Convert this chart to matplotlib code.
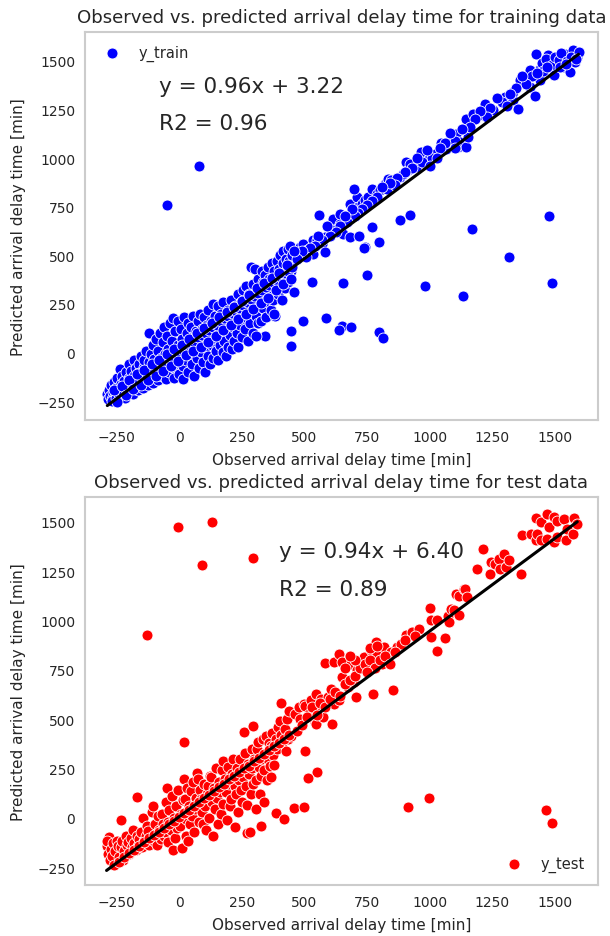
import matplotlib
matplotlib.use("Agg")
import matplotlib.pyplot as plt
import seaborn as sns
import numpy as np

# ---------------- data ----------------
# Training set: dense band at low delays
train_low = [
(-288,-215),(-284,-240),(-280,-195),(-276,-225),(-272,-170),(-268,-240),(-264,-205),(-260,-150),(-256,-225),(-252,-185),
(-248,-130),(-245,-240),(-242,-200),(-238,-85),(-235,-160),(-232,-225),(-228,-120),(-225,-190),(-221,-145),(-218,-235),
(-214,-100),(-210,-170),(-207,-205),(-203,-130),(-200,-60),(-196,-185),(-193,-95),(-190,-150),(-186,-215),(-183,-120),
(-180,-40),(-176,-170),(-173,-80),(-170,-135),(-166,-195),(-163,-60),(-160,-105),(-156,-160),(-153,-20),(-150,-125),
(-146,-185),(-143,-75),(-140,-40),(-136,-145),(-133,10),(-130,-100),(-126,-170),(-123,-50),(-120,100),(-117,-125),
(-114,-10),(-110,-80),(-107,-155),(-104,40),(-100,-35),(-97,-110),(-94,70),(-90,-60),(-87,-140),(-84,10),
(-80,-90),(-77,100),(-74,-30),(-70,-120),(-67,55),(-64,-70),(-60,130),(-57,-10),(-54,-135),(-50,85),
(-47,-50),(-44,20),(-40,-100),(-37,150),(-34,-20),(-30,60),(-27,175),(-24,-75),(-20,-130),(-17,110),
(-14,0),(-10,-50),(-7,160),(-4,40),(0,-110),(3,-20),(6,120),(10,70),(13,-70),(16,-135),
(20,180),(23,20),(26,-40),(30,100),(33,150),(36,-100),(40,40),(43,-10),(46,130),(50,-60),
(53,80),(56,190),(60,-120),(63,20),(66,110),(70,-30),(73,160),(76,60),(80,-80),(83,200),
(86,0),(90,120),(93,-50),(96,80),(100,180),(103,-100),(106,30),(110,140),(113,-20),(116,220),
(120,90),(123,-60),(126,160),(130,40),(133,250),(136,-30),(140,110),(143,190),(146,10),(150,70),
(153,240),(156,-40),(160,150),(163,40),(166,200),(170,100),(173,0),(176,260),(180,60),(183,170),
(186,-20),(190,120),(193,220),(196,30),(200,160),(203,90),(206,270),(210,20),(213,190),(216,130),
(220,60),(223,240),(226,160),(230,100),(233,300),(236,30),(240,200),(243,140),(246,260),(250,80),
(253,320),(256,180),(260,230),(263,120),(266,340),(270,270),(273,60),(276,200),(280,300),(283,150),
(286,440),(290,240),(293,350),(296,100),(300,280),(303,430),(306,190),(310,320),(313,150),(316,380),
(320,250),(323,300),(326,160),(330,420),(333,360),(336,230),(340,280),(343,400),(346,180),(350,330),
(353,440),(356,260),(360,380),(363,310),(366,220),(370,460),(373,350),(376,270),(380,420),(383,190),
(386,330),(390,470),(393,380),(396,300),(400,430),(403,500),(406,350),(410,270),(413,460),(416,520),
(420,400),(423,330),(426,480),(430,420),(433,530),(436,360),(440,470),(443,550),(446,420),(450,500),
]
train_core = [
(-270,-250),(-255,-235),(-240,-215),(-225,-205),(-210,-190),(-195,-170),(-180,-160),(-165,-150),(-150,-135),(-135,-120),
(-120,-105),(-105,-90),(-90,-80),(-75,-60),(-60,-50),(-45,-30),(-30,-25),(-15,-5),(0,10),(15,15),
(30,30),(45,50),(60,55),(75,80),(90,90),(105,100),(120,115),(135,130),(150,140),(165,160),
(180,175),(195,185),(210,205),(225,215),(240,230),(255,245),(270,260),(285,275),(300,290),(315,305),
(330,320),(345,335),(360,345),(375,360),(390,375),(405,390),(420,410),(435,420),(450,440),
(-262,-195),(-230,-175),(-200,-140),(-170,-110),(-140,-90),(-110,-60),(-80,-40),(-50,-10),(-20,20),(10,40),
(40,70),(70,100),(100,125),(130,150),(160,180),(190,210),(220,235),(250,265),(280,295),(310,330),
(340,355),(370,385),(400,410),(430,450),
(-250,-255),(-215,-220),(-185,-190),(-155,-170),(-125,-140),(-95,-120),(-65,-95),(-35,-70),(-5,-45),(25,-15),
(55,5),(85,30),(115,55),(145,85),(175,115),(205,140),(235,170),(265,200),(295,225),(325,255),
(355,280),(385,320),(415,350),(445,380),
]
train_high = [
(481,543),(494,500),(494,560),(508,526),(534,508),(534,577),(548,577),(568,560),(581,594),(581,517),
(608,637),(614,629),(614,688),(641,663),(641,714),(654,611),(668,692),(681,766),(681,594),(694,731),
(708,800),(714,749),(728,766),(741,783),(754,800),(768,843),(788,817),(801,834),(821,868),(828,843),
(834,894),(847,886),(881,903),(894,920),(907,980),(914,937),(921,971),(947,954),(967,1032),(994,989),
(1020,1023),(1047,1078),(1067,1049),(1087,1109),(1107,1126),(1113,1057),(1120,1083),(1147,1057),(1147,1203),(1153,1109),
(1174,1229),(1214,1220),(1220,1280),(1253,1246),(1300,1315),(1333,1298),(1333,1340),(1353,1255),(1360,1400),(1400,1366),
(1400,1452),(1424,1534),(1440,1460),(1440,1400),(1473,1529),(1480,1452),(1507,1495),(1533,1469),(1540,1538),(1560,1443),
(1573,1555),(1590,1521),
(1450,1490),(1465,1510),(1490,1480),(1500,1520),(1515,1505),(1525,1540),(1550,1500),(1565,1520),(1580,1495),(1455,1450),
(1495,1430),(1520,1470),(1545,1485),(1410,1420),(1385,1380),(1370,1420),(1345,1360),(1320,1330),(1290,1290),(1270,1310),
(1240,1260),(1230,1210),(1200,1240),(1180,1200),(1160,1160),(1130,1150),(1100,1090),(1080,1130),(1060,1080),(1040,1050),
(1010,1000),(990,1040),(970,980),(950,1000),(930,950),(900,930),(870,900),(860,860),(840,870),(810,850),
(790,800),(770,780),(750,760),(730,740),(715,720),(700,700),(690,740),(670,670),(660,700),(640,650),
(625,620),(600,600),(590,650),(570,580),(555,600),(540,550),(520,540),(505,490),(490,520),(470,480),
(460,520),(1595,1545),(1585,1510),(1470,1470),(1430,1440),(1310,1270),(1030,1000),(1000,960),(1100,1050),
]
train_outliers = [
(-50,760),(80,960),(556,707),(696,841),(1168,635),(1476,702),(881,682),(921,707),(770,645),(1422,1320),
(1316,490),(1488,357),(983,342),(1132,290),(749,398),(652,357),(529,362),(742,543),(797,568),(649,136),
(637,118),(685,130),(585,177),(493,162),(447,110),(447,33),(797,105),(813,72),(457,311),(342,85),
(716,600),(739,538),(380,198),(308,85),
]

# Test set
test_low = [
(-291,-142),(-285,-184),(-278,-213),(-282,-98),(-288,-120),(-275,-160),(-270,-195),(-265,-130),(-258,-170),(-251,-116),
(-245,-142),(-240,-200),(-235,-150),(-230,-120),(-225,-213),(-220,-170),(-215,-90),(-210,-140),(-205,-125),(-200,-185),
(-195,-100),(-190,-150),(-185,-60),(-180,-130),(-175,-165),(-171,-91),(-165,-142),(-160,-110),(-155,-70),(-150,-150),
(-145,0),(-140,-120),(-135,-90),(-130,-40),(-125,-66),(-120,-140),(-115,-100),(-110,30),(-106,60),(-102,-120),
(-98,-32),(-94,-80),(-90,-140),(-85,10),(-80,-60),(-75,-110),(-71,19),(-66,-30),(-62,-90),(-58,-74),
(-54,80),(-50,151),(-46,-20),(-45,-125),(-40,40),(-35,-60),(-30,110),(-25,-164),(-20,0),(-16,-100),
(-12,61),(-8,-50),(-4,140),(2,-40),(6,20),(10,-154),(14,90),(18,197),(22,95),(26,-90),
(28,-6),(32,150),(35,-116),(40,60),(44,-30),(48,137),(52,10),(56,180),(60,-70),(62,44),
(66,100),(70,227),(75,196),(80,-20),(84,140),(88,95),(92,30),(95,-32),(100,170),(104,60),
(108,-60),(112,120),(115,163),(120,0),(124,210),(128,205),(132,80),(134,-93),(138,150),(142,44),
(146,250),(150,100),(155,-30),(158,180),(162,129),(166,20),(170,240),(173,288),(176,70),(182,196),
(186,130),(190,-10),(195,256),(198,170),(202,60),(208,95),(212,220),(216,300),(222,163),(222,-47),
(226,120),(230,250),(235,30),(240,190),(242,298),(246,140),(250,80),(255,205),(259,433),(262,330),
(266,160),(270,-79),(270,65),(275,273),(280,220),(283,-71),(285,120),(289,349),(292,250),(295,171),
(295,467),(300,300),(305,190),(308,44),(312,350),(315,383),(318,260),(322,120),(326,-43),(328,213),
(330,300),(335,400),(337,78),(340,240),(345,330),(348,416),(352,190),(356,300),(360,380),(362,264),
(365,206),(368,365),(372,430),(375,320),(380,270),(385,400),(387,23),(390,350),(395,460),(401,492),
(405,420),(408,582),(412,380),(418,-6),(421,450),(425,340),(430,500),(436,400),(440,540),(448,416),
]
test_core = [
(-260,-240),(-240,-222),(-220,-200),(-200,-180),(-180,-165),(-160,-145),(-140,-125),(-120,-105),(-100,-85),(-80,-70),
(-60,-50),(-40,-30),(-20,-15),(0,5),(20,25),(40,40),(60,60),(80,80),(100,100),(120,115),
(140,135),(160,155),(180,170),(200,195),(220,210),(240,230),(260,250),(280,265),(300,290),(320,305),
(340,325),(360,345),(380,365),(400,380),(420,400),(440,420),
]
test_high = [
(461,526),(478,560),(498,578),(501,568),(518,528),(525,596),(541,484),(545,477),(545,629),(552,545),
(565,604),(572,511),(582,786),(592,612),(605,655),(611,475),(618,578),(618,790),(638,596),(638,832),
(651,714),(651,790),(672,663),(685,781),(698,689),(705,612),(711,748),(738,815),(765,849),(775,628),
(785,892),(785,798),(791,832),(811,781),(818,866),(834,815),(845,841),(855,650),(871,866),(885,883),
(905,925),(931,942),(958,959),(1000,1064),(1004,1001),(1004,917),(1028,846),(1031,1001),(1060,913),(1072,1025),
(1078,993),(1087,1059),(1097,1052),(1104,1136),(1118,1027),(1118,1126),(1137,1162),(1141,1160),(1151,1120),(1191,1263),
(1213,1365),(1241,1238),(1244,1297),(1263,1285),(1277,1314),(1281,1263),(1297,1339),(1304,1272),(1317,1306),(1364,1238),
(1368,1432),(1404,1437),(1424,1522),(1424,1407),(1431,1441),(1444,1407),(1445,1500),(1471,1539),(1471,1415),(1477,1475),
(1497,1525),(1497,1399),(1510,1505),(1510,1424),(1537,1517),(1544,1407),(1550,1466),(1571,1441),(1577,1522),(1590,1490),
(470,440),(480,500),(490,470),(510,510),(530,560),(550,520),(560,580),(580,560),(600,600),(620,640),
(640,620),(660,680),(680,700),(700,720),(720,760),(740,780),(760,800),(780,760),(800,800),(820,820),
(700,800),(680,820),(660,760),(750,740),(840,780),(760,860),(790,870),(860,840),(900,900),(940,920),
]
test_outliers = [
(-4,1475),(130,1500),(90,1282),(296,1317),(-131,927),(19,386),(-171,107),(913,56),(999,100),(1464,39),
(1487,-27),(458,49),(497,56),(549,234),(513,200),(501,340),(-232,-10),
]

train_fit = (0.96, 3.22, 0.96)   # slope, intercept, R2
test_fit = (0.94, 6.40, 0.89)

# ---------------- style ----------------
sns.set_style("whitegrid")
plt.rcParams['font.family'] = ['DejaVu Sans']
text_col = '#262626'

fig = plt.figure(figsize=(6.10, 9.37), dpi=100)
fig.subplots_adjust(left=0.139, right=0.980, top=0.9648, bottom=0.0544, hspace=0.198)
ax1 = fig.add_subplot(2, 1, 1)
ax2 = fig.add_subplot(2, 1, 2)


def unzip(*groups):
    pts = [p for g in groups for p in g]
    return np.array([p[0] for p in pts], float), np.array([p[1] for p in pts], float)


def panel(ax, x, y, color, label, fit, title, txt_xy, legend_loc, ylim):
    ax.scatter(x, y, s=62, c=color, edgecolors='white', linewidths=0.6, label=label, zorder=2)
    a, b, r2 = fit
    xs = np.array([x.min(), x.max()])
    ax.plot(xs, a * xs + b, color='black', lw=2.2, zorder=3)
    ax.text(txt_xy[0], txt_xy[1], f"y = {a:.2f}x + {b:.2f}", fontsize=15.5, color=text_col)
    ax.text(txt_xy[0], txt_xy[2], f"R2 = {r2:.2f}", fontsize=15.5, color=text_col)
    ax.set_title(title, fontsize=13.1, color=text_col, pad=7)
    ax.set_xlabel("Observed arrival delay time [min]", fontsize=11, color=text_col, labelpad=6)
    ax.set_ylabel("Predicted arrival delay time [min]", fontsize=11, color=text_col, labelpad=8)
    ax.grid(False)
    ax.set_xlim(-378, 1672)
    ax.set_ylim(*ylim)
    ax.set_xticks([-250, 0, 250, 500, 750, 1000, 1250, 1500])
    ax.set_yticks([-250, 0, 250, 500, 750, 1000, 1250, 1500])
    ax.tick_params(labelsize=10, colors=text_col, length=0, pad=7)
    for sp in ax.spines.values():
        sp.set_color('#cccccc')
        sp.set_linewidth(1.5)
    leg = ax.legend(loc=legend_loc, frameon=False, fontsize=10.5, handletextpad=0.8)
    for t in leg.get_texts():
        t.set_color(text_col)


xtr, ytr = unzip(train_low, train_core, train_high, train_outliers)
xte, yte = unzip(test_low, test_core, test_high, test_outliers)

panel(ax1, xtr, ytr, 'blue', 'y_train', train_fit,
      "Observed vs. predicted arrival delay time for training data",
      (-80, 1342, 1150), 'upper left', (-348, 1649))
panel(ax2, xte, yte, 'red', 'y_test', test_fit,
      "Observed vs. predicted arrival delay time for test data",
      (400, 1322, 1130), 'lower right', (-341, 1627))

fig.savefig("out.png", dpi=100)
